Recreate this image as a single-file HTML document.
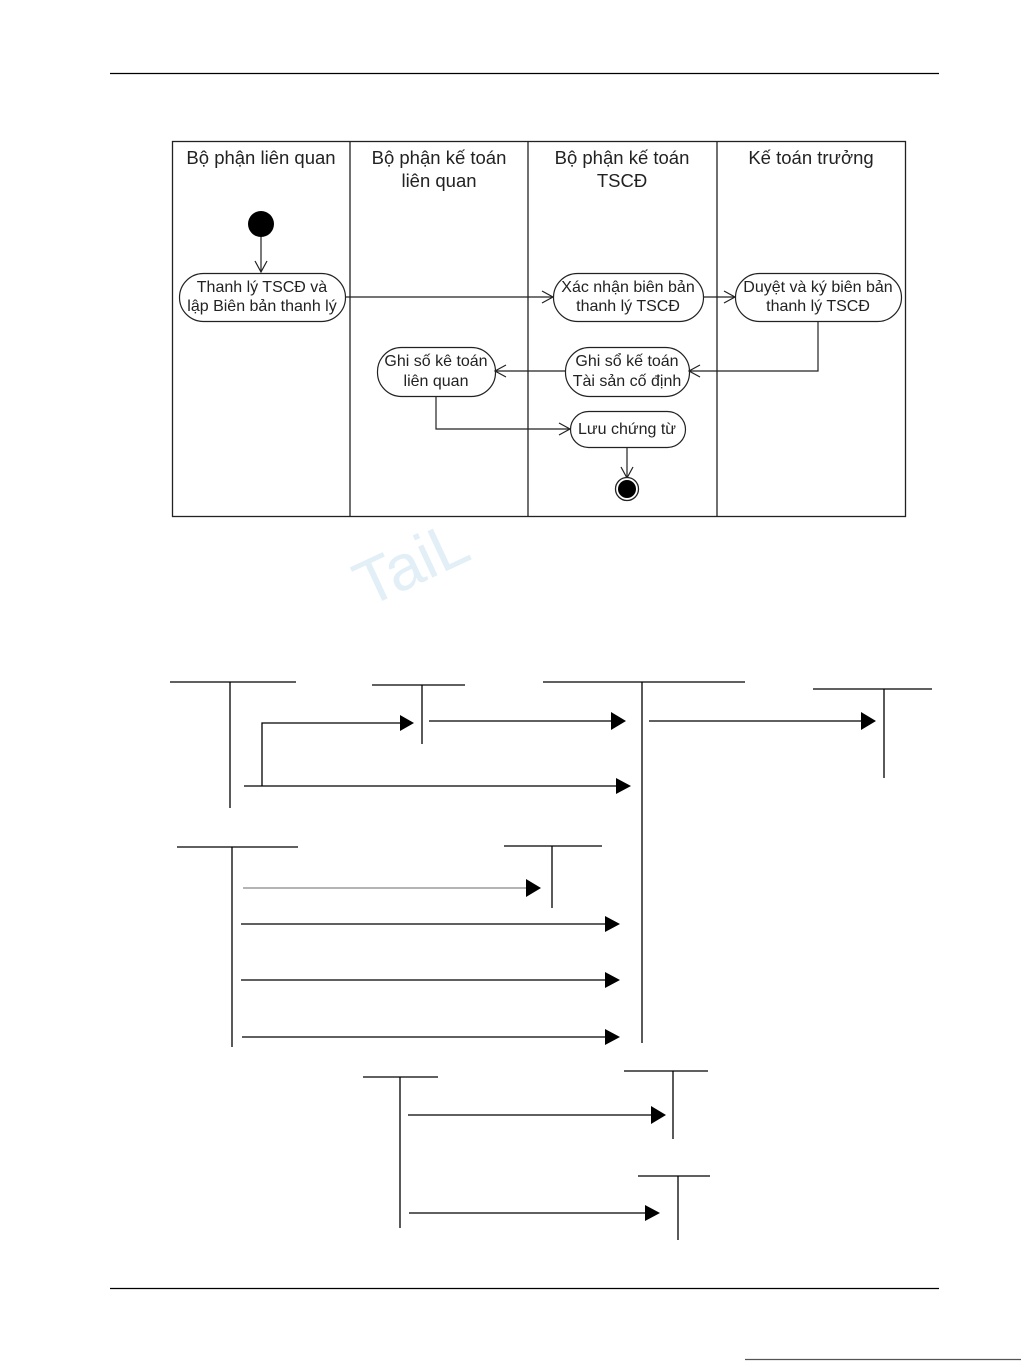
<!DOCTYPE html>
<html><head><meta charset="utf-8"><style>
html,body{margin:0;padding:0;background:#fff;}
svg{display:block;}
text{font-family:"Liberation Sans",sans-serif;font-size:18.5px;fill:#222;}
.n{font-size:16px;}
</style></head><body>
<svg width="1021" height="1361" viewBox="0 0 1021 1361" xmlns="http://www.w3.org/2000/svg">
<defs>
<marker id="o" markerWidth="14" markerHeight="14" refX="12" refY="7" orient="auto" markerUnits="userSpaceOnUse">
<path d="M1,1 L12,7 L1,13" fill="none" stroke="#222" stroke-width="1.2"/></marker>
</defs>
<line x1="110" y1="73.5" x2="939" y2="73.5" stroke="#000" stroke-width="1.2"/>
<line x1="110" y1="1288.5" x2="939" y2="1288.5" stroke="#000" stroke-width="1.2"/>
<line x1="745" y1="1359.5" x2="1021" y2="1359.5" stroke="#555" stroke-width="1.2"/>

<text x="412" y="585" transform="rotate(-25 412 565)" style="font-size:64px;fill:#e2eff6;" text-anchor="middle">TaiL</text>

<g stroke="#222" stroke-width="1.3" fill="none">
<rect x="172.5" y="141.5" width="733" height="375"/>
<line x1="350" y1="141" x2="350" y2="517"/>
<line x1="528" y1="141" x2="528" y2="517"/>
<line x1="717" y1="141" x2="717" y2="517"/>
</g>
<text x="261" y="164" text-anchor="middle">Bộ phận liên quan</text>
<text x="439" y="164" text-anchor="middle">Bộ phận kế toán</text>
<text x="439" y="187" text-anchor="middle">liên quan</text>
<text x="622" y="164" text-anchor="middle">Bộ phận kế toán</text>
<text x="622" y="187" text-anchor="middle">TSCĐ</text>
<text x="811" y="164" text-anchor="middle">Kế toán trưởng</text>

<circle cx="261" cy="224" r="13" fill="#000"/>
<g stroke="#222" stroke-width="1.2" fill="none">
<line x1="261" y1="237" x2="261" y2="272" marker-end="url(#o)"/>
<line x1="345" y1="297" x2="553" y2="297" marker-end="url(#o)"/>
<line x1="703" y1="297" x2="735" y2="297" marker-end="url(#o)"/>
<polyline points="818,321 818,371 689,371" marker-end="url(#o)"/>
<line x1="565" y1="371" x2="495" y2="371" marker-end="url(#o)"/>
<polyline points="436,396 436,429 570,429" marker-end="url(#o)"/>
<line x1="627" y1="447" x2="627" y2="478" marker-end="url(#o)"/>
<rect x="179.5" y="273.5" width="166" height="48" rx="24"/>
<rect x="553.5" y="273.5" width="150" height="48" rx="24"/>
<rect x="735.5" y="273.5" width="166" height="48" rx="24"/>
<rect x="565.5" y="347.5" width="124" height="49" rx="24"/>
<rect x="377.5" y="347.5" width="118" height="49" rx="24"/>
<rect x="570.5" y="411.5" width="115" height="36" rx="18"/>
</g>
<circle cx="627" cy="489" r="11.5" fill="#fff" stroke="#222" stroke-width="1.3"/>
<circle cx="627" cy="489" r="9" fill="#000"/>
<text class="n" x="262" y="292" text-anchor="middle">Thanh lý TSCĐ và</text>
<text class="n" x="262" y="311" text-anchor="middle">lập Biên bản thanh lý</text>
<text class="n" x="628" y="292" text-anchor="middle">Xác nhận biên bản</text>
<text class="n" x="628" y="311" text-anchor="middle">thanh lý TSCĐ</text>
<text class="n" x="818" y="292" text-anchor="middle">Duyệt và ký biên bản</text>
<text class="n" x="818" y="311" text-anchor="middle">thanh lý TSCĐ</text>
<text class="n" x="627" y="366" text-anchor="middle">Ghi sổ kế toán</text>
<text class="n" x="627" y="386" text-anchor="middle">Tài sản cố định</text>
<text class="n" x="436" y="366" text-anchor="middle">Ghi số kê toán</text>
<text class="n" x="436" y="386" text-anchor="middle">liên quan</text>
<text class="n" x="627" y="434" text-anchor="middle">Lưu chứng từ</text>

<g stroke="#000" stroke-width="1.3" fill="none">
<line x1="170" y1="682" x2="296" y2="682"/><line x1="230" y1="682" x2="230" y2="808"/>
<line x1="372" y1="685" x2="465" y2="685"/><line x1="422" y1="685" x2="422" y2="744"/>
<line x1="543" y1="682" x2="745" y2="682"/><line x1="642" y1="682" x2="642" y2="1043"/>
<line x1="813" y1="689" x2="932" y2="689"/><line x1="884" y1="689" x2="884" y2="778"/>
<polyline points="262,786 262,723 400,723"/>
<line x1="244" y1="786" x2="617" y2="786"/>
<line x1="429" y1="721" x2="612" y2="721"/>
<line x1="649" y1="721" x2="862" y2="721"/>
<line x1="177" y1="847" x2="298" y2="847"/><line x1="232" y1="847" x2="232" y2="1047"/>
<line x1="504" y1="846" x2="602" y2="846"/><line x1="552" y1="846" x2="552" y2="908"/>
<line x1="243" y1="888" x2="527" y2="888" stroke="#888"/>
<line x1="241" y1="924" x2="606" y2="924"/>
<line x1="241" y1="980" x2="606" y2="980"/>
<line x1="242" y1="1037" x2="606" y2="1037"/>
<line x1="363" y1="1077" x2="438" y2="1077"/><line x1="400" y1="1077" x2="400" y2="1228"/>
<line x1="624" y1="1071" x2="708" y2="1071"/><line x1="673" y1="1071" x2="673" y2="1139"/>
<line x1="408" y1="1115" x2="652" y2="1115"/>
<line x1="638" y1="1176" x2="710" y2="1176"/><line x1="678" y1="1176" x2="678" y2="1240"/>
<line x1="409" y1="1213" x2="646" y2="1213"/>
</g>
<g fill="#000">
<polygon points="400,715 414,723 400,731"/>
<polygon points="616,778 631,786 616,794"/>
<polygon points="611,712 626,721 611,730"/>
<polygon points="861,712 876,721 861,730"/>
<polygon points="526,879 541,888 526,897"/>
<polygon points="605,916 620,924 605,932"/>
<polygon points="605,972 620,980 605,988"/>
<polygon points="605,1029 620,1037 605,1045"/>
<polygon points="651,1106 666,1115 651,1124"/>
<polygon points="645,1205 660,1213 645,1221"/>
</g>
</svg>
</body></html>
